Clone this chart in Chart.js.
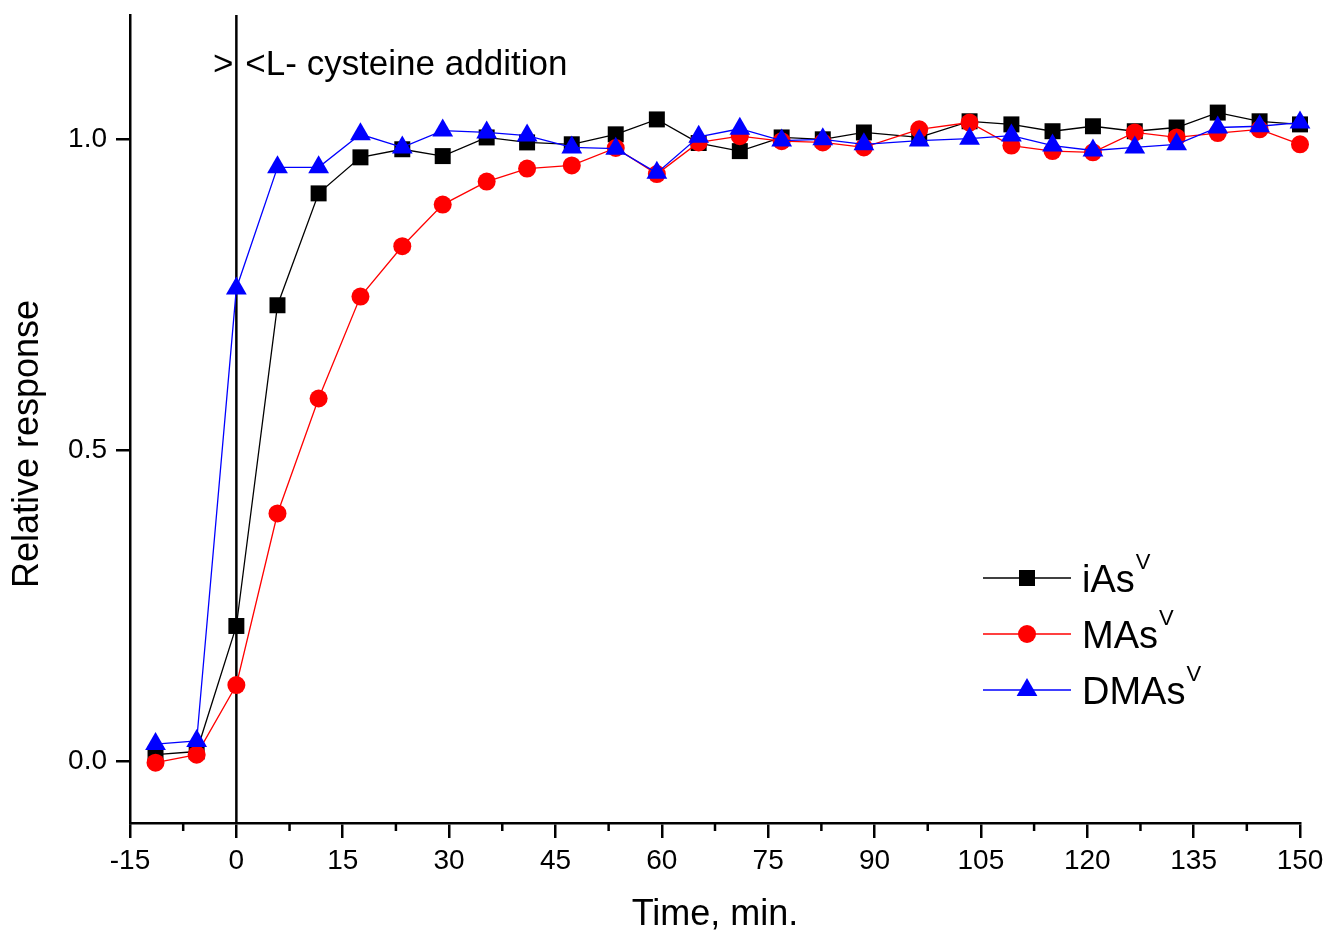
<!DOCTYPE html>
<html>
<head>
<meta charset="utf-8">
<script src="https://cdn.jsdelivr.net/npm/chart.js@4.4.1/dist/chart.umd.min.js"></script>
<style>
html, body { margin: 0; padding: 0; background: #fff; }
#wrap { width: 1328px; height: 937px; }
</style>
</head>
<body>
<div id="wrap"><canvas id="chart" width="1328" height="937"></canvas></div>
<script>
// ── Datos ─────────────────────────────────────────────────────────────────
var times = [-11.4, -5.6, 0, 5.8, 11.6, 17.5, 23.4, 29.1, 35.3, 41.0, 47.3, 53.5, 59.3, 65.2,
             71.0, 76.9, 82.7, 88.5, 96.3, 103.4, 109.3, 115.1, 120.8, 126.7, 132.6, 138.4, 144.3, 150.0];
var iAs  = [0.010, 0.015, 0.217, 0.733, 0.913, 0.971, 0.984, 0.973, 1.003, 0.995, 0.992, 1.008, 1.032, 0.994,
            0.981, 1.003, 1.000, 1.011, 1.003, 1.029, 1.024, 1.013, 1.021, 1.013, 1.019, 1.043, 1.029, 1.024];
var MAs  = [-0.003, 0.010, 0.122, 0.398, 0.583, 0.747, 0.828, 0.895, 0.932, 0.953, 0.958, 0.986, 0.944, 0.995,
            1.005, 0.997, 0.995, 0.987, 1.016, 1.027, 0.990, 0.981, 0.979, 1.011, 1.003, 1.010, 1.016, 0.992];
var DMAs = [0.027, 0.032, 0.760, 0.955, 0.955, 1.008, 0.987, 1.014, 1.011, 1.006, 0.987, 0.985, 0.946, 1.004,
            1.017, 0.998, 1.000, 0.992, 0.998, 1.001, 1.006, 0.990, 0.982, 0.987, 0.992, 1.019, 1.021, 1.027];

var xTicks = [-15, 0, 15, 30, 45, 60, 75, 90, 105, 120, 135, 150];
var yTicks = [0, 0.5, 1.0];
var seriesNames = ['iAs', 'MAs', 'DMAs'];
var annotText = '<L- cysteine addition';
var yTitle = 'Relative response';

var FONT = "'Liberation Sans', Arial, sans-serif";

function pts(arr) {
    return times.map(function (t, i) { return { x: t, y: arr[i] }; });
}

// ── Plugin: marcas menores, línea en t=0, textos y leyenda ───────────────
var extras = {
    id: 'extras',
    beforeDatasetsDraw: function (chart) {
        var ctx = chart.ctx, a = chart.chartArea, x = chart.scales.x;
        var px = x.getPixelForValue(0);
        ctx.save();
        ctx.strokeStyle = '#000';
        ctx.lineWidth = 2.5;
        ctx.beginPath();
        ctx.moveTo(px, a.top);
        ctx.lineTo(px, a.bottom);
        ctx.stroke();
        ctx.restore();
    },
    afterDraw: function (chart) {
        var ctx = chart.ctx, x = chart.scales.x;
        ctx.save();
        // marcas menores del eje x
        ctx.strokeStyle = '#000';
        ctx.lineWidth = 2.5;
        for (var i = 0; i < xTicks.length - 1; i++) {
            var mx = x.getPixelForValue((xTicks[i] + xTicks[i + 1]) / 2);
            ctx.beginPath();
            ctx.moveTo(mx, x.top);
            ctx.lineTo(mx, x.top + 8);
            ctx.stroke();
        }

        // título del eje y (algo desplazado hacia abajo, como en el original)
        ctx.save();
        ctx.translate(28, 444);
        ctx.rotate(-Math.PI / 2);
        ctx.fillStyle = '#000';
        ctx.font = '36px ' + FONT;
        ctx.textAlign = 'center';
        ctx.textBaseline = 'middle';
        ctx.fillText(yTitle, 0, 0);
        ctx.restore();

        // texto de la adición
        var px = x.getPixelForValue(0);
        ctx.fillStyle = '#000';
        ctx.font = '35px ' + FONT;
        ctx.textBaseline = 'alphabetic';
        ctx.textAlign = 'right';
        ctx.fillText('>', px - 3, 75);
        ctx.textAlign = 'left';
        ctx.fillText(annotText, px + 9, 75);

        // leyenda
        var rows = [578, 634, 690];
        chart.data.datasets.forEach(function (ds, k) {
            var y = rows[k];
            ctx.strokeStyle = ds.borderColor;
            ctx.lineWidth = 1.5;
            ctx.beginPath();
            ctx.moveTo(983, y);
            ctx.lineTo(1071, y);
            ctx.stroke();
            ctx.fillStyle = ds.backgroundColor;
            Chart.helpers.drawPoint(ctx, {
                pointStyle: ds.pointStyle, radius: ds.pointRadius, rotation: 0, borderWidth: 0
            }, 1027, y);
            ctx.fillStyle = '#000';
            ctx.font = '38px ' + FONT;
            ctx.textAlign = 'left';
            ctx.fillText(seriesNames[k], 1082, y + 14);
            var w = ctx.measureText(seriesNames[k]).width;
            ctx.font = '22px ' + FONT;
            ctx.fillText('V', 1082 + w + 1, y - 9);
        });
        ctx.restore();
    }
};

new Chart(document.getElementById('chart').getContext('2d'), {
    type: 'line',
    data: {
        datasets: [
            {
                label: 'iAs', data: pts(iAs),
                borderColor: '#000000', backgroundColor: '#000000',
                borderWidth: 1.3, pointStyle: 'rect', pointRadius: 11.3, pointBorderWidth: 0,
                order: 3, clip: false, tension: 0
            },
            {
                label: 'MAs', data: pts(MAs),
                borderColor: '#ff0000', backgroundColor: '#ff0000',
                borderWidth: 1.3, pointStyle: 'circle', pointRadius: 9, pointBorderWidth: 0,
                order: 2, clip: false, tension: 0
            },
            {
                label: 'DMAs', data: pts(DMAs),
                borderColor: '#0000ff', backgroundColor: '#0000ff',
                borderWidth: 1.3, pointStyle: 'triangle', pointRadius: 12, pointBorderWidth: 0,
                order: 1, clip: false, tension: 0
            }
        ]
    },
    options: {
        responsive: false,
        animation: false,
        events: [],
        layout: { padding: { top: 15, right: 28, bottom: 0, left: 0 } },
        plugins: { legend: { display: false }, tooltip: { enabled: false } },
        scales: {
            x: {
                type: 'linear', min: -15, max: 150,
                afterBuildTicks: function (s) { s.ticks = xTicks.map(function (v) { return { value: v }; }); },
                afterFit: function (s) { s.height = 937 - 823; s.paddingLeft = 0; s.paddingRight = 0; },
                grid: { display: true, drawOnChartArea: false, drawTicks: true, tickLength: 15, color: '#000', lineWidth: 2.5 },
                border: { display: true, color: '#000', width: 2.5 },
                ticks: {
                    color: '#000', font: { size: 28, family: FONT }, padding: 6,
                    maxRotation: 0, autoSkip: false,
                    callback: function (v) { return String(v); }
                },
                title: { display: true, text: 'Time, min.', color: '#000', font: { size: 36, family: FONT }, padding: { top: 0, bottom: 0 } }
            },
            y: {
                type: 'linear', min: -0.1, max: 1.2,
                afterBuildTicks: function (s) { s.ticks = yTicks.map(function (v) { return { value: v }; }); },
                afterFit: function (s) { s.width = 130; s.paddingTop = 0; s.paddingBottom = 0; },
                grid: { display: true, drawOnChartArea: false, drawTicks: true, tickLength: 14, color: '#000', lineWidth: 2.5 },
                border: { display: true, color: '#000', width: 2.5 },
                ticks: {
                    color: '#000', font: { size: 28, family: FONT }, padding: 9,
                    callback: function (v) { return v.toFixed(1); }
                },
                title: { display: false }
            }
        }
    },
    plugins: [extras]
});
</script>
</body>
</html>
